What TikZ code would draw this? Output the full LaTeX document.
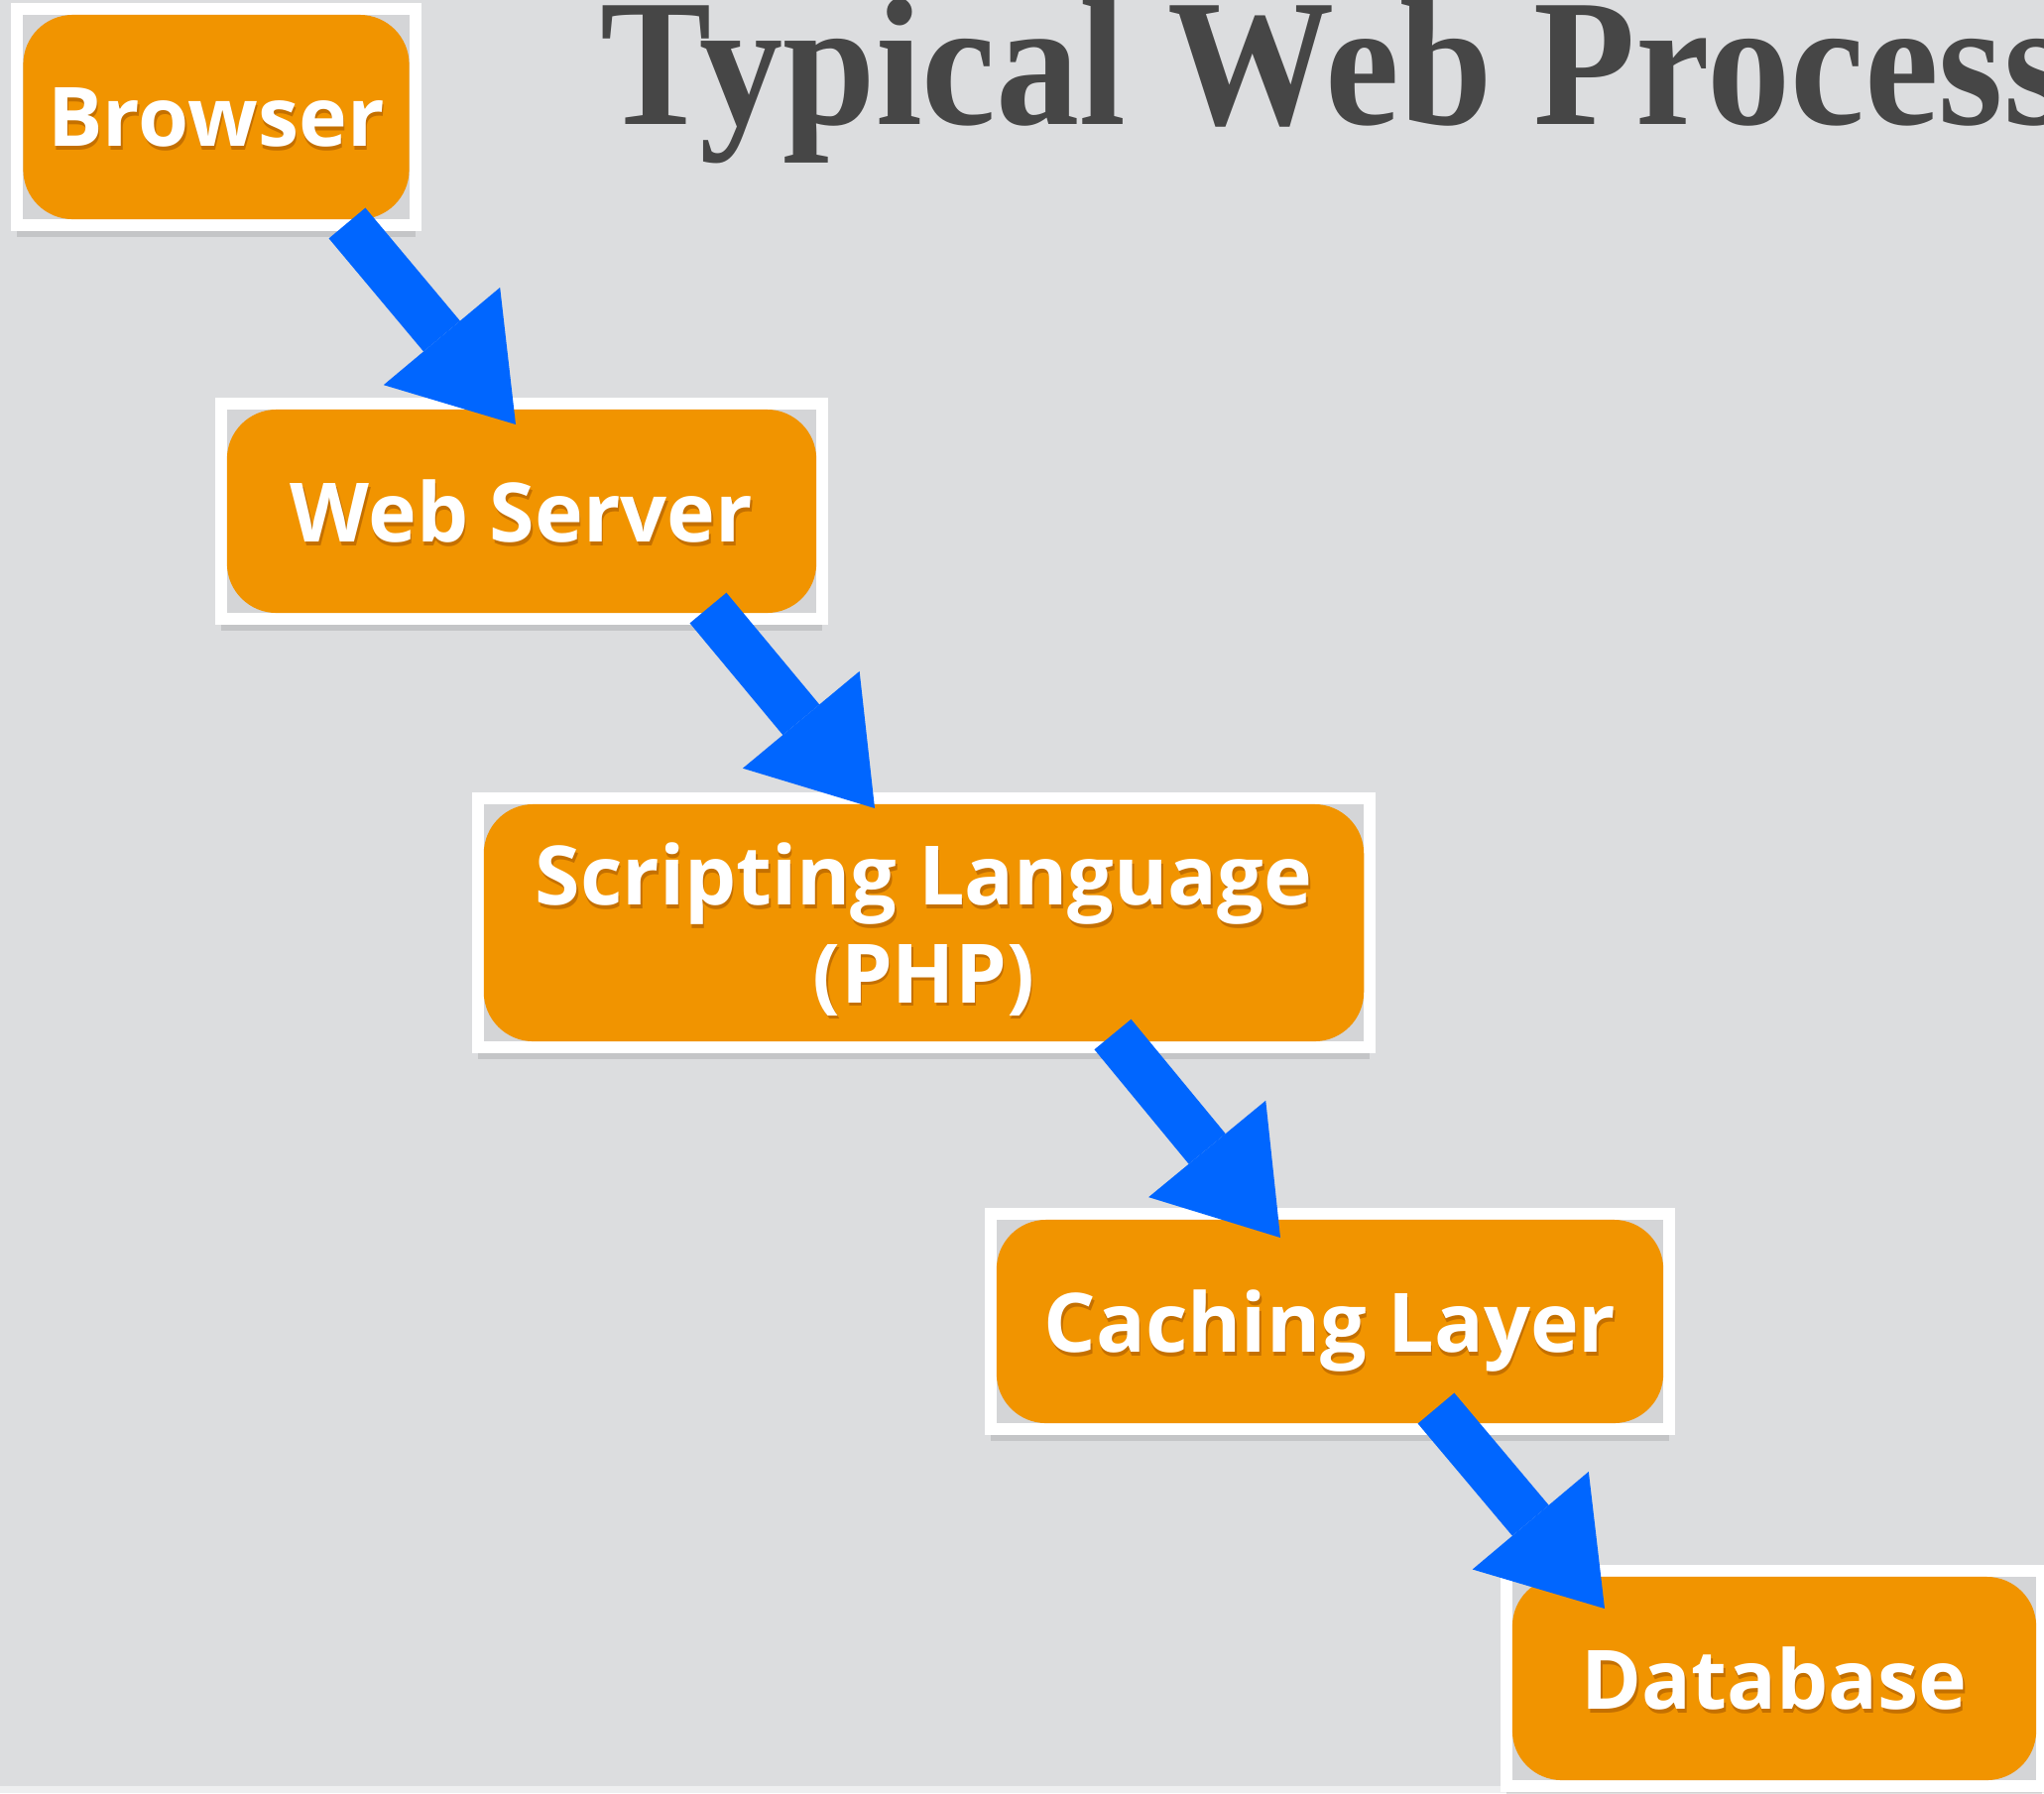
\documentclass[tikz,border=0pt]{standalone}
\usepackage{fontspec}
\newfontfamily\labelfont{Open Sans}
\newfontfamily\titlefont{Liberation Serif}
\usetikzlibrary{arrows.meta,shadows}

\definecolor{paper}{RGB}{220,221,223}
\definecolor{paperedge}{RGB}{238,239,240}
\definecolor{boxorange}{RGB}{241,148,0}
\definecolor{boxgray}{RGB}{212,213,215}
\definecolor{flowblue}{RGB}{0,102,255}
\definecolor{titlegray}{RGB}{70,70,70}
\definecolor{textshade}{RGB}{196,112,0}

\newcommand{\boxtext}[1]{\makebox[0pt][l]{\raisebox{-0.035cm}{\hspace*{0.015cm}\textcolor{textshade}{#1}}}#1}

\tikzset{
	framebox/.style={rectangle, fill=boxgray, draw=white, line width=0.12cm,
		drop shadow={shadow xshift=0cm, shadow yshift=-0.12cm, opacity=0.25}},
	orangebox/.style={rectangle, rounded corners=0.5cm, fill=boxorange, text=white,
		font=\labelfont\bfseries\fontsize{23.5}{28}\selectfont, align=center, inner sep=0pt, text depth=0pt},
	flowarrow/.style={draw=flowblue, line width=0.48cm, -{Triangle[width=1.53cm, length=1.16cm, line width=0pt]}}
}

\begin{document}
\begin{tikzpicture}[x=0.01cm, y=-0.01cm]
			\useasboundingbox (0,0) rectangle (2061,1808);
			\clip (0,0) rectangle (2061,1808);
			\fill[paper] (0,0) rectangle (2061,1808);
			\fill[paperedge] (0,1801) rectangle (2061,1808);
			\begin{scope}[every node/.style={framebox}]
				\node[minimum width=4.01cm, minimum height=2.18cm] (browserframe) at (218,118) {};
				\node[minimum width=6.06cm, minimum height=2.17cm] (webserverframe) at (526,515.5) {};
				\node[minimum width=8.99cm, minimum height=2.51cm] (scriptingframe) at (931.5,930.5) {};
				\node[minimum width=6.84cm, minimum height=2.17cm] (cachingframe) at (1341,1332.5) {};
				\node[minimum width=5.40cm, minimum height=2.17cm] (databaseframe) at (1789,1692.5) {};
			\end{scope}
			\begin{scope}[every node/.style={orangebox}]
				\node[minimum width=3.89cm, minimum height=2.06cm] (browser) at (browserframe) {\boxtext{Browser}};
				\node[minimum width=5.94cm, minimum height=2.05cm] (webserver) at (webserverframe) {\boxtext{Web Server}};
				\node[minimum width=8.87cm, minimum height=2.39cm] (scripting) at (scriptingframe) {\boxtext{Scripting Language}\\\boxtext{(PHP)}};
				\node[minimum width=6.72cm, minimum height=2.05cm] (caching) at (cachingframe) {\boxtext{Caching Layer}};
				\node[minimum width=5.28cm, minimum height=2.05cm] (database) at (databaseframe) {\boxtext{Database}};
			\end{scope}
			\node[anchor=base west, inner sep=0pt, text=titlegray, font=\titlefont\bfseries\fontsize{52}{60}\selectfont] (title) at (605,125) {\scalebox{0.92}[1]{Typical Web Process}};
			% arrow ends
			\coordinate (a1s) at (350,225);
			\coordinate (a1e) at (520,428);
			\coordinate (a2s) at (714,613);
			\coordinate (a2e) at (882,815);
			\coordinate (a3s) at (1122,1043);
			\coordinate (a3e) at (1291,1248);
			\coordinate (a4s) at (1448,1420);
			\coordinate (a4e) at (1618,1622);
			\begin{scope}[every edge/.style={flowarrow}]
				\path (a1s) edge (a1e);
				\path (a2s) edge (a2e);
				\path (a3s) edge (a3e);
				\path (a4s) edge (a4e);
			\end{scope}
		\end{tikzpicture}
\end{document}
